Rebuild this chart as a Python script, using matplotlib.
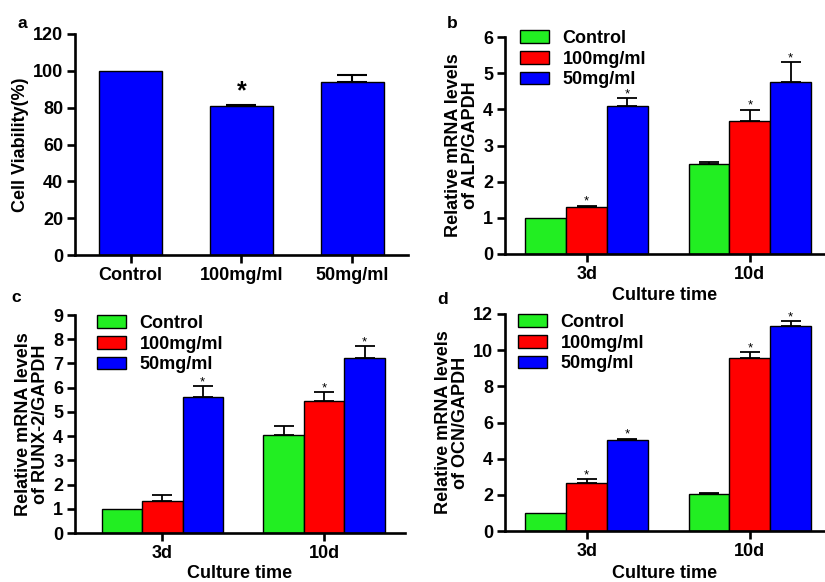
import numpy as np
import matplotlib
matplotlib.use('Agg')
import matplotlib.pyplot as plt
from matplotlib.patches import Patch

plt.rcParams['font.family'] = ['Liberation Sans', 'DejaVu Sans']
plt.rcParams['font.weight'] = 'bold'

# panel a - cell viability
via_labels = ['Control', '100mg/ml', '50mg/ml']
via_mean = [100, 81, 94]
via_err = [0, 0.7, 4]
via_star = [False, True, False]

# panels b-d - relative mRNA levels
groups = ['Control', '100mg/ml', '50mg/ml']
days = ['3d', '10d']
colors = ['#22EE22', '#FF0000', '#0000FF']

alp_mean = [[1.0, 2.48], [1.31, 3.67], [4.09, 4.76]]
alp_err = [[0.0, 0.07], [0.03, 0.32], [0.22, 0.55]]
alp_star = [[False, False], [True, True], [True, True]]

runx_mean = [[1.0, 4.05], [1.31, 5.46], [5.6, 7.24]]
runx_err = [[0.0, 0.35], [0.26, 0.35], [0.47, 0.48]]
runx_star = [[False, False], [False, True], [True, True]]

ocn_mean = [[0.97, 2.05], [2.64, 9.57], [5.02, 11.32]]
ocn_err = [[0.0, 0.04], [0.24, 0.32], [0.08, 0.28]]
ocn_star = [[False, False], [True, True], [True, True]]

W, H = 825, 582
FS = 13
fig = plt.figure(figsize=(W / 100, H / 100), dpi=100)


def px_axes(left, top, right, bottom):
    return fig.add_axes([left / W, 1 - bottom / H, (right - left) / W, (bottom - top) / H])


def style(ax):
    for s in ['top', 'right']:
        ax.spines[s].set_visible(False)
    for s in ['left', 'bottom']:
        ax.spines[s].set_linewidth(1.9)
    ax.tick_params(width=1.9, length=6, labelsize=FS, pad=2.5)
    for t in ax.get_xticklabels() + ax.get_yticklabels():
        t.set_fontweight('bold')


# ---- a ----
ax = px_axes(75, 34, 408, 255)
x = np.arange(3)
ax.bar(x, via_mean, width=0.56, color='#0000FF', edgecolor='black', linewidth=1, zorder=2)
for i in range(3):
    if via_err[i] > 0:
        ax.errorbar(x[i], via_mean[i], yerr=[[0], [via_err[i]]], fmt='none', ecolor='black',
                    elinewidth=1.5, capsize=11, capthick=1.5, zorder=3)
    if via_star[i]:
        ax.text(x[i], via_mean[i] + via_err[i] + 0.5, '*', ha='center', va='bottom', fontsize=18)
ax.set_xlim(-0.5, 2.5)
ax.set_ylim(0, 120)
ax.set_yticks(range(0, 121, 20))
ax.set_xticks(x)
ax.set_xticklabels(via_labels)
style(ax)
ax.set_ylabel('Cell Viability(%)', fontsize=FS, fontweight='bold', labelpad=3)
fig.text(22 / W, 1 - 23 / H, 'a', fontsize=12.5, fontweight='bold', ha='center', va='center')


def group_panel(box, mean, err, star, ymax, ystep, ylabel, letter, letter_xy, xlim, leg_xy, xlab_y):
    ax = px_axes(*box)
    xc = np.arange(len(days))
    bw = 0.25
    for g in range(3):
        xs = xc + (g - 1) * bw
        ax.bar(xs, mean[g], width=bw, color=colors[g], edgecolor='black', linewidth=1, zorder=2)
        for d in range(len(days)):
            if err[g][d] > 0:
                ax.errorbar(xs[d], mean[g][d], yerr=[[0], [err[g][d]]], fmt='none', ecolor='black',
                            elinewidth=1.3, capsize=7, capthick=1.3, zorder=3)
            if star[g][d]:
                ax.text(xs[d], mean[g][d] + err[g][d] + ymax * 0.004, '*', ha='center',
                        va='baseline', fontsize=9.5, fontweight='normal')
    ax.set_xlim(*xlim)
    ax.set_ylim(0, ymax)
    ax.set_yticks(np.arange(0, ymax + 0.01, ystep))
    ax.set_xticks(xc)
    ax.set_xticklabels(days)
    style(ax)
    ax.set_ylabel(ylabel, fontsize=FS, fontweight='bold', labelpad=3, linespacing=1.0)
    left, top, right, bottom = box
    fig.text(((left + right) / 2) / W, 1 - xlab_y / H, 'Culture time', fontsize=FS,
             fontweight='bold', ha='center', va='center')
    fig.text(letter_xy[0] / W, 1 - letter_xy[1] / H, letter, fontsize=12.5, fontweight='bold',
             ha='center', va='center')
    handles = [Patch(facecolor=colors[g], edgecolor='black', linewidth=1) for g in range(3)]
    leg = ax.legend(handles, groups, loc='upper left', bbox_to_anchor=(leg_xy[0] / W, 1 - leg_xy[1] / H),
                    bbox_transform=fig.transFigure, frameon=False, fontsize=FS, handlelength=1.6,
                    handleheight=0.7, handletextpad=0.75, labelspacing=0.2, borderpad=0, borderaxespad=0)
    for t in leg.get_texts():
        t.set_fontweight('bold')
    return ax


group_panel((505, 37, 825, 254), alp_mean, alp_err, alp_star, 6, 1,
            'Relative mRNA levels\nof ALP/GAPDH', 'b', (452, 23), (-0.5, 1.46), (520, 30), 296)
group_panel((75, 315, 405, 533), runx_mean, runx_err, runx_star, 9, 1,
            'Relative mRNA levels\nof RUNX-2/GAPDH', 'c', (16, 298), (-0.54, 1.5), (97, 315), 573)
group_panel((505, 314, 825, 531), ocn_mean, ocn_err, ocn_star, 12, 2,
            'Relative mRNA levels\nof OCN/GAPDH', 'd', (443, 300), (-0.5, 1.46), (518, 314), 573)

fig.savefig('out.png', dpi=100)
